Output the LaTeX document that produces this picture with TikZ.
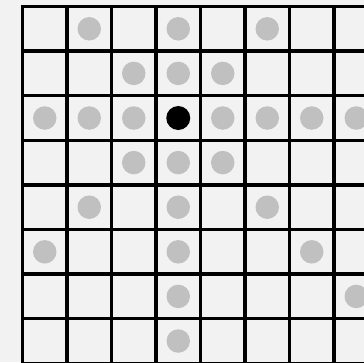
\documentclass[tikz,border=0pt]{standalone}
\definecolor{bgc}{HTML}{F2F2F2}
\definecolor{dotc}{HTML}{C0C0C0}
\begin{document}
\begin{tikzpicture}[x=1pt,y=-1pt,
  gridline/.style={line width=3.3pt,black},
  move/.style={circle,fill=dotc,draw=none,minimum size=23.5pt,inner sep=0pt},
  queen/.style={circle,fill=black,draw=none,minimum size=24pt,inner sep=0pt}]
\useasboundingbox (0,0) rectangle (364,362);
\fill[bgc] (0,0) rectangle (364,362);
\clip (0,0) rectangle (364,362);
\foreach \i in {0,...,8} {
  \draw[gridline] ({22.5+44.5*\i},6.5) -- ({22.5+44.5*\i},420);
  \draw[gridline] (22.5,{6.5+44.6*\i}) -- (420,{6.5+44.6*\i});
}
\draw[gridline,line cap=rect] (22.5,40) -- (22.5,6.5) -- (60,6.5);
\foreach \c/\r in {1/0,3/0,5/0, 2/1,3/1,4/1, 0/2,1/2,2/2,4/2,5/2,6/2,7/2, 2/3,3/3,4/3, 1/4,3/4,5/4, 0/5,3/5,6/5, 3/6,7/6, 3/7} {
  \node[move] (p-\c-\r) at ({44.75+44.5*\c},{28.8+44.6*\r}) {};
}
\node[queen] (q) at ({44.75+44.5*3},{28.8+44.6*2}) {};
\end{tikzpicture}
\end{document}
